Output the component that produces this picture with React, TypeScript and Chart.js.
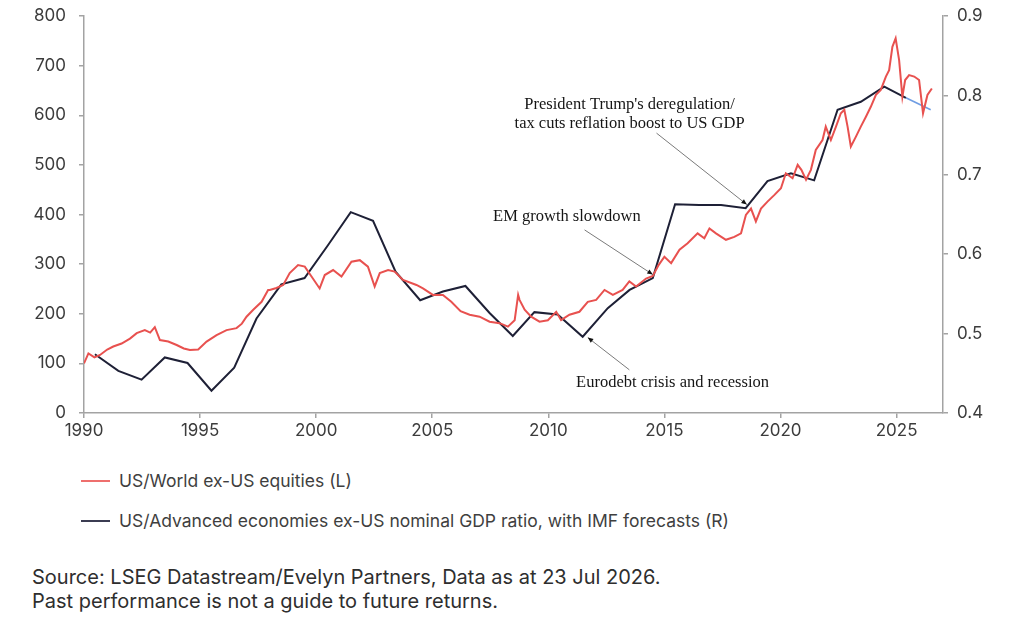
import { useEffect, useRef } from 'react';
import { Chart, registerables } from 'chart.js';

Chart.register(...registerables);

// US/World ex-US equities (left axis)
const eqYears = [
  1990.0, 1990.19, 1990.45, 1990.69, 1991.0, 1991.26, 1991.62, 1991.98, 1992.27, 1992.62,
  1992.85, 1993.05, 1993.27, 1993.63, 1993.99, 1994.3, 1994.56, 1994.92, 1995.28, 1995.71,
  1996.14, 1996.57, 1996.8, 1997.0, 1997.29, 1997.65, 1997.93, 1998.0, 1998.29, 1998.58,
  1998.86, 1999.22, 1999.51, 1999.8, 2000.15, 2000.37, 2000.73, 2001.09, 2001.52, 2001.88,
  2002.23, 2002.52, 2002.74, 2003.1, 2003.38, 2003.74, 2004.32, 2004.6, 2005.03, 2005.46,
  2005.82, 2006.22, 2006.61, 2007.04, 2007.47, 2007.9, 2008.26, 2008.55, 2008.7, 2008.76,
  2008.98, 2009.26, 2009.62, 2009.98, 2010.34, 2010.55, 2010.91, 2011.34, 2011.7, 2012.06,
  2012.42, 2012.78, 2013.2, 2013.49, 2013.78, 2014.21, 2014.5, 2014.75, 2015.0, 2015.29,
  2015.65, 2016.0, 2016.43, 2016.72, 2016.94, 2017.22, 2017.65, 2018.01, 2018.3, 2018.51,
  2018.73, 2018.94, 2019.16, 2019.44, 2019.73, 2020.02, 2020.23, 2020.52, 2020.74, 2020.9,
  2021.1, 2021.31, 2021.52, 2021.81, 2021.95, 2022.17, 2022.39, 2022.6, 2022.75, 2022.89,
  2023.03, 2023.25, 2023.46, 2023.68, 2023.89, 2024.11, 2024.32, 2024.54, 2024.68, 2024.82,
  2024.96, 2025.11, 2025.25, 2025.37, 2025.54, 2025.76, 2025.97, 2026.14, 2026.33, 2026.52,
];
const eqValues = [
  100, 120, 112, 117, 128, 134, 140, 150, 161, 167,
  162, 173, 147, 144, 137, 130, 127, 128, 144, 157,
  167, 171, 180, 194, 208, 224, 248, 248, 252, 258,
  282, 298, 295, 275, 251, 278, 288, 275, 305, 308,
  295, 255, 282, 288, 285, 268, 258, 251, 238, 238,
  224, 205, 198, 194, 184, 181, 174, 187, 238, 228,
  208, 194, 184, 187, 204, 187, 198, 204, 224, 228,
  248, 238, 248, 265, 255, 271, 276, 298, 315, 302,
  329, 342, 362, 352, 372, 362, 349, 355, 362, 399,
  412, 386, 412, 426, 439, 453, 483, 473, 500, 490,
  470, 490, 530, 550, 577, 550, 577, 604, 611, 577,
  537, 557, 577, 597, 617, 641, 651, 678, 691, 738,
  755, 711, 637, 671, 681, 678, 671, 604, 641, 654,
];

// US/Advanced economies ex-US nominal GDP ratio (right axis)
const gdpYears = [
  1990.47, 1991.48, 1992.48, 1993.48, 1994.46, 1995.49, 1996.47, 1997.43, 1998.5, 1999.5,
  2000.5, 2001.49, 2002.45, 2003.42, 2004.48, 2005.46, 2006.43, 2007.47, 2008.47, 2009.4,
  2010.4, 2011.48, 2012.56, 2013.5, 2014.5, 2015.46, 2016.5, 2017.44, 2018.5, 2019.44,
  2020.45, 2021.45, 2022.46, 2023.46, 2024.47, 2025.4,
];
const gdpValues = [
  0.474, 0.453, 0.442, 0.47, 0.463, 0.428, 0.457, 0.519, 0.562, 0.57,
  0.611, 0.653, 0.642, 0.578, 0.542, 0.553, 0.56, 0.526, 0.497, 0.527,
  0.524, 0.496, 0.532, 0.555, 0.57, 0.663, 0.662, 0.662, 0.658, 0.692,
  0.702, 0.693, 0.782, 0.792, 0.811, 0.797,
];

// IMF forecast tail
const fcYears = [2025.4, 2026.47];
const fcValues = [0.797, 0.782];

const xTicks = [1990, 1995, 2000, 2005, 2010, 2015, 2020, 2025];

// annotations, placed in data units (year, left axis)
const notes = [
  { lines: ["President Trump's deregulation/", 'tax cuts reflation boost to US GDP'], x: 2013.5, y: 622 },
  { lines: ['EM growth slowdown'], x: 2010.8, y: 395 },
  { lines: ['Eurodebt crisis and recession'], x: 2015.35, y: 62 },
];
const arrows = [
  { from: [2014.66, 564], to: [2018.55, 420] },
  { from: [2011.56, 369], to: [2014.5, 279] },
  { from: [2013.49, 87], to: [2011.7, 152] },
];

const TICK_FONT = { family: 'Inter', size: 17 };
const AXIS_COLOR = '#a3a3a3';

const annotationPlugin = {
  id: 'notes',
  afterDatasetsDraw(chart: any) {
    const { ctx, scales } = chart;
    const sx = scales.x;
    const sy = scales.y;
    ctx.save();
    arrows.forEach(a => {
      const x1 = sx.getPixelForValue(a.from[0]);
      const y1 = sy.getPixelForValue(a.from[1]);
      const x2 = sx.getPixelForValue(a.to[0]);
      const y2 = sy.getPixelForValue(a.to[1]);
      ctx.strokeStyle = '#7a7a7a';
      ctx.lineWidth = 1;
      ctx.beginPath();
      ctx.moveTo(x1, y1);
      ctx.lineTo(x2, y2);
      ctx.stroke();
      const ang = Math.atan2(y2 - y1, x2 - x1);
      ctx.fillStyle = '#111';
      ctx.beginPath();
      ctx.moveTo(x2, y2);
      ctx.lineTo(x2 - 6 * Math.cos(ang - 0.4), y2 - 6 * Math.sin(ang - 0.4));
      ctx.lineTo(x2 - 6 * Math.cos(ang + 0.4), y2 - 6 * Math.sin(ang + 0.4));
      ctx.closePath();
      ctx.fill();
    });
    ctx.fillStyle = '#151515';
    ctx.font = '16.5px "Liberation Serif", serif';
    ctx.textAlign = 'center';
    ctx.textBaseline = 'middle';
    notes.forEach(n => {
      const x = sx.getPixelForValue(n.x);
      const y = sy.getPixelForValue(n.y);
      n.lines.forEach((line, i) => ctx.fillText(line, x, y + i * 19));
    });
    ctx.restore();
  },
};

// fixed axis sizes so the plot area sits where it does in the picture
const fixWidth = (w: number) => (s: any) => {
  s.width = w;
  s.paddingTop = 0;
  s.paddingBottom = 0;
};

function EquityGdpChart() {
  const canvasRef = useRef<HTMLCanvasElement>(null);
  const chartRef = useRef<Chart | null>(null);

  useEffect(() => {
    if (!canvasRef.current) return;
    chartRef.current?.destroy();

    chartRef.current = new Chart(canvasRef.current, {
      type: 'line',
      data: {
        datasets: [
          {
            label: 'US/World ex-US equities (L)',
            data: eqYears.map((x, i) => ({ x, y: eqValues[i] })),
            borderColor: '#e8514f',
            borderWidth: 2,
            pointRadius: 0,
            tension: 0,
            yAxisID: 'y',
          },
          {
            label: 'US/Advanced economies ex-US nominal GDP ratio, with IMF forecasts (R)',
            data: gdpYears.map((x, i) => ({ x, y: gdpValues[i] })),
            borderColor: '#1e2036',
            borderWidth: 2,
            pointRadius: 0,
            tension: 0,
            yAxisID: 'y2',
          },
          {
            label: 'IMF forecast',
            data: fcYears.map((x, i) => ({ x, y: fcValues[i] })),
            borderColor: '#6f9de3',
            borderWidth: 1.6,
            pointRadius: 0,
            tension: 0,
            yAxisID: 'y2',
          },
        ],
      },
      options: {
        responsive: false,
        animation: false,
        layout: { padding: { top: 16, left: 0, right: 0, bottom: 0 } },
        plugins: {
          legend: { display: false },
          tooltip: { enabled: false },
        },
        scales: {
          x: {
            type: 'linear',
            min: 1990,
            max: 2027,
            afterFit: (s: any) => { s.height = 32; s.paddingLeft = 0; s.paddingRight = 0; },
            afterBuildTicks: (s: any) => { s.ticks = xTicks.map(v => ({ value: v })); },
            grid: { drawOnChartArea: false, drawTicks: true, tickLength: 5, color: AXIS_COLOR, lineWidth: 1.5 },
            border: { color: AXIS_COLOR, width: 1.5 },
            ticks: { font: TICK_FONT, color: '#3c3c3c', padding: 3, maxRotation: 0, callback: (v: any) => String(v) },
          },
          y: {
            position: 'left',
            min: 0,
            max: 800,
            afterFit: fixWidth(84),
            grid: { drawOnChartArea: false, drawTicks: true, tickLength: 5, color: AXIS_COLOR, lineWidth: 1.5 },
            border: { color: AXIS_COLOR, width: 1.5 },
            ticks: { stepSize: 100, font: TICK_FONT, color: '#3c3c3c', padding: 13 },
          },
          y2: {
            position: 'right',
            min: 0.4,
            max: 0.9,
            afterFit: fixWidth(81),
            grid: { drawOnChartArea: false, drawTicks: true, tickLength: 5, color: AXIS_COLOR, lineWidth: 1.5 },
            border: { color: AXIS_COLOR, width: 1.5 },
            ticks: { stepSize: 0.1, font: TICK_FONT, color: '#3c3c3c', padding: 9, callback: (v: any) => Number(v).toFixed(1) },
          },
        },
      },
      plugins: [annotationPlugin],
    });

    return () => { chartRef.current?.destroy(); };
  }, []);

  return <canvas ref={canvasRef} width={1024} height={445} style={{ display: 'block' }} />;
}

const legendRow = (top: number, color: string, text: string) => (
  <div style={{ position: 'absolute', top, left: 81, height: 22, display: 'flex', alignItems: 'center' }}>
    <span style={{ display: 'inline-block', width: 29, height: 2, background: color, marginRight: 9 }} />
    <span style={{ font: '17.5px Inter, sans-serif', color: '#3f3f3f', lineHeight: '22px' }}>{text}</span>
  </div>
);

export default function App() {
  return (
    <div style={{ position: 'absolute', top: 0, left: 0, width: 1024, height: 626, background: '#fff', overflow: 'hidden' }}>
      <EquityGdpChart />
      {legendRow(470, '#ee6f6d', 'US/World ex-US equities (L)')}
      {legendRow(510, '#3b3c52', 'US/Advanced economies ex-US nominal GDP ratio, with IMF forecasts (R)')}
      <div style={{ position: 'absolute', top: 565, left: 32, font: '20px Inter, sans-serif', lineHeight: '24px', color: '#2e2e2e' }}>
        Source: LSEG Datastream/Evelyn Partners, Data as at 23 Jul 2026.
        <br />
        Past performance is not a guide to future returns.
      </div>
    </div>
  );
}
